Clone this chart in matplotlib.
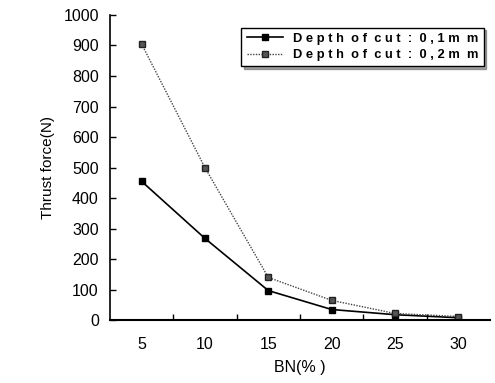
import matplotlib.pyplot as plt

bn_labels = ["5", "10", "15", "20", "25", "30"]
thrust_01 = [455, 268, 97, 35, 18, 8]
thrust_02 = [905, 500, 140, 65, 22, 12]

plt.rcParams['font.family'] = ['Liberation Sans', 'DejaVu Sans']

fig = plt.figure(figsize=(4.95, 3.83), dpi=100)
ax = fig.add_axes([0.222, 0.164, 0.768, 0.797])

xs = list(range(len(bn_labels)))
ax.plot(xs, thrust_01, color='black', lw=1.2, marker='s', ms=5,
        mfc='black', mec='black', label='D e p t h  o f  c u t  :  0 , 1 m  m')
ax.plot(xs, thrust_02, color='#444444', lw=1.0, ls=(0, (1, 1)), marker='s', ms=5,
        mfc='#555555', mec='#222222', label='D e p t h  o f  c u t  :  0 , 2 m  m')

ax.set_xlim(-0.5, len(bn_labels) - 0.5)
ax.set_ylim(0, 1000)
ax.set_yticks(range(0, 1001, 100))
ax.set_xticks(xs)
ax.set_xticklabels(bn_labels)
ax.set_xticks([x + 0.5 for x in xs[:-1]], minor=True)
ax.tick_params(axis='x', which='major', length=0, pad=12, labelsize=11.5)
ax.tick_params(axis='x', which='minor', direction='in', length=4, width=1)
ax.tick_params(axis='y', direction='in', length=4, width=1, labelsize=11.5, pad=8)

for s in ['top', 'right']:
    ax.spines[s].set_visible(False)
ax.spines['left'].set_linewidth(1.2)
ax.spines['bottom'].set_linewidth(1.5)

ax.set_xlabel('BN(% )', fontsize=11.5, labelpad=6)
ax.set_ylabel('Thrust force(N)', fontsize=11, labelpad=6)

leg = ax.legend(loc='upper right', bbox_to_anchor=(1.0, 0.98),
                frameon=True, fancybox=False, shadow=True, handlelength=2.8,
                borderpad=0.4, labelspacing=0.35, prop={'weight': 'bold', 'size': 9.3})
leg.get_frame().set_edgecolor('black')
leg.get_frame().set_linewidth(1.0)

fig.savefig('out.png', dpi=100)
